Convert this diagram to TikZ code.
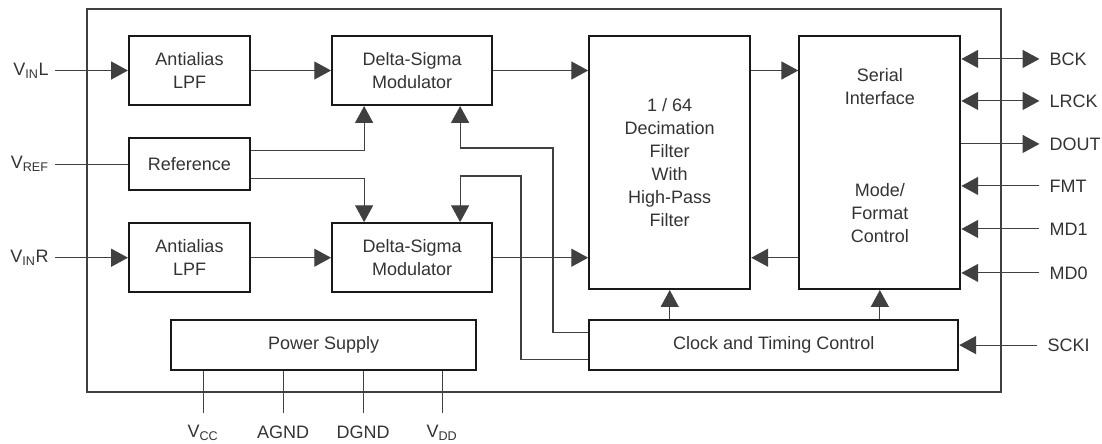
\documentclass[tikz,border=0pt]{standalone}
\usepackage{fontspec}
\setmainfont{Liberation Sans}
\usetikzlibrary{arrows.meta,positioning}

\begin{document}
\begin{tikzpicture}[
    node distance=2cm,
    every node/.style={font=\fontsize{12.8}{16.3}\selectfont, text=black!80, align=center},
    blk/.style={draw=black!90, line width=1.5pt, minimum width=3.025cm, minimum height=1.725cm, inner sep=0pt},
    tall/.style={blk, minimum width=4.025cm, minimum height=6.325cm},
    wide/.style={blk, minimum height=1.25cm},
    pinl/.style={anchor=east, inner sep=0.15cm},
    pinr/.style={anchor=west, inner xsep=0.25cm, inner ysep=0.1cm},
    pinb/.style={anchor=north, inner sep=0.15cm},
    wire/.style={draw=black!75, line width=0.75pt},
    flow/.style={wire, -{Triangle[length=0.42cm, width=0.45cm]}},
    both/.style={wire, {Triangle[length=0.42cm, width=0.45cm]}-{Triangle[length=0.42cm, width=0.45cm]}}
]
\useasboundingbox (0,0) rectangle (27.55,-11.075);
\draw[wire, line width=0.9pt] (2.175,-0.225) rectangle (25.025,-9.8);

\node[blk] (aaL) at (4.7375,-1.7625) {Antialias\\LPF};
\node[blk, below=0.775cm of aaL, minimum height=1.3cm] (ref) {Reference};
\node[blk, below=0.775cm of ref] (aaR) {Antialias\\LPF};
\node[blk, right=of aaL, minimum width=4cm] (dsL) {Delta-Sigma\\Modulator};
\node[blk, right=of aaR, minimum width=4cm] (dsR) {Delta-Sigma\\Modulator};
\node[tall, right=2.375cm of dsL.north east, anchor=north west] (dec) {1 / 64\\Decimation\\Filter\\With\\High-Pass\\Filter};
\node[tall, right=1.175cm of dec] (ser) {};
\node (serif) at ([yshift=-1.3cm]ser.north) {Serial\\Interface};
\node (mode) at ([yshift=-4.45cm]ser.north) {Mode/\\Format\\Control};
\node[wide, below=0.725cm of dec.south west, anchor=north west, minimum width=9.225cm] (clk) {Clock and Timing Control};
\node[wide, left=2.775cm of clk, minimum width=7.625cm] (pwr) {Power Supply};

\node[pinl, left=1.825cm of aaL] (vinl) {V\textsubscript{IN}L};
\node[pinl, left=1.825cm of ref] (vref) {V\textsubscript{REF}};
\node[pinl, left=1.825cm of aaR] (vinr) {V\textsubscript{IN}R};

\node[pinr] (bck) at ([xshift=1.95cm,yshift=-0.6cm]ser.north east) {BCK};
\node[pinr] (lrck) at ([xshift=1.95cm,yshift=-1.65cm]ser.north east) {LRCK};
\node[pinr] (dout) at ([xshift=1.95cm,yshift=-2.725cm]ser.north east) {DOUT};
\node[pinr] (fmt) at ([xshift=1.95cm,yshift=-3.775cm]ser.north east) {FMT};
\node[pinr] (md1) at ([xshift=1.95cm,yshift=-4.85cm]ser.north east) {MD1};
\node[pinr] (md0) at ([xshift=1.95cm,yshift=-5.95cm]ser.north east) {MD0};
\node[pinr] (scki) at ([xshift=1.95cm]clk.east) {SCKI};

\node[pinb] (vcc) at ([xshift=0.825cm,yshift=-1.2cm]pwr.south west) {V\textsubscript{CC}};
\node[pinb] (agnd) at ([xshift=2.825cm,yshift=-1.2cm]pwr.south west) {AGND};
\node[pinb] (dgnd) at ([xshift=4.825cm,yshift=-1.2cm]pwr.south west) {DGND};
\node[pinb] (vdd) at ([xshift=6.8cm,yshift=-1.2cm]pwr.south west) {V\textsubscript{DD}};

\coordinate (upL) at (13.825,-3.7);
\coordinate (upR) at (13.025,-4.4);

\draw[flow] (vinl) -- (aaL);
\draw[wire] (vref) -- (ref);
\draw[flow] (vinr) -- (aaR);
\draw[flow] (aaL) -- (dsL);
\draw[flow] (aaR) -- (dsR);
\draw[flow] ([yshift=0.35cm]ref.east) -| ([xshift=-1.2cm]dsL.south);
\draw[flow] ([yshift=-0.35cm]ref.east) -| ([xshift=-1.2cm]dsR.north);
\draw[flow] ([yshift=0.325cm]clk.west) -| (upL) -| ([xshift=1.2cm]dsL.south);
\draw[flow] ([yshift=-0.35cm]clk.west) -| (upR) -| ([xshift=1.2cm]dsR.north);
\draw[flow] (dsL) -- (dsL -| dec.west);
\draw[flow] (dsR) -- (dsR -| dec.west);
\draw[flow] (dsL -| dec.east) -- (dsL -| ser.west);
\draw[flow] (dsR -| ser.west) -- (dsR -| dec.east);
\draw[flow] (clk.north -| dec.south) -- (dec.south);
\draw[flow] (clk.north -| ser.south) -- (ser.south);

\draw[both] (ser.east |- bck) -- (bck.west);
\draw[both] (ser.east |- lrck) -- (lrck.west);
\draw[flow] (ser.east |- dout) -- (dout.west);
\draw[flow] (fmt.west) -- (ser.east |- fmt);
\draw[flow] (md1.west) -- (ser.east |- md1);
\draw[flow] (md0.west) -- (ser.east |- md0);
\draw[flow] (scki.west) -- (clk.east);

\draw[wire, shorten >=0.15cm] (vcc.north |- pwr.south) -- (vcc.north);
\draw[wire, shorten >=0.15cm] (agnd.north |- pwr.south) -- (agnd.north);
\draw[wire, shorten >=0.15cm] (dgnd.north |- pwr.south) -- (dgnd.north);
\draw[wire, shorten >=0.15cm] (vdd.north |- pwr.south) -- (vdd.north);
\end{tikzpicture}
\end{document}
